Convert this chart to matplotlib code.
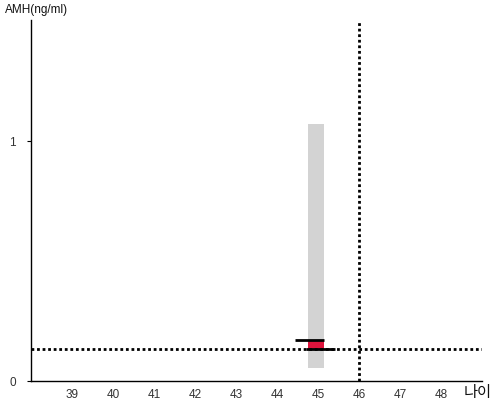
import matplotlib
matplotlib.use("Agg")
import matplotlib.pyplot as plt

plt.rcParams['font.family'] = ['Liberation Sans', 'Noto Sans CJK KR', 'DejaVu Sans']

# 나이 / AMH 값
ages = [39, 40, 41, 42, 43, 44, 45, 46, 47, 48]
my_age = 46
my_amh = 0.133
range_age = 44.95
range_low = 0.054
range_high = 1.071
box_low = 0.133
box_high = 0.171
box_top_line = (44.45, 45.14)
box_bottom_line = (44.71, 45.42)

fig = plt.figure(figsize=(5, 4), dpi=100)
ax = fig.add_axes([0.062, 0.0475, 0.902, 0.9025])

# 회색 범위 막대
ax.bar(range_age, range_high - range_low, bottom=range_low, width=0.37,
       color='#d3d3d3', zorder=1)
# 빨간 상자
ax.bar(range_age, box_high - box_low, bottom=box_low, width=0.37,
       color='#dc143c', zorder=2)
ax.hlines(box_high, box_top_line[0], box_top_line[1], color='black', lw=2, zorder=3)
ax.hlines(box_low, box_bottom_line[0], box_bottom_line[1], color='black', lw=2, zorder=3)

# 기준선
ax.axhline(my_amh, color='black', lw=2, ls=(0, (1, 1)), zorder=4)
ax.axvline(my_age, color='black', lw=2, ls=(0, (1, 1)), zorder=4)

ax.set_xlim(38, 49)
ax.set_ylim(0, 1.505)
ax.set_xticks(ages)
ax.set_yticks([0, 1])
ax.tick_params(axis='x', length=0, labelsize=8.5, colors='#333333', pad=6)
ax.tick_params(axis='y', length=3, labelsize=8.5, colors='#333333', pad=8)
ax.tick_params(axis='both', color='black')
for s in ['top', 'right']:
    ax.spines[s].set_visible(False)
for s in ['left', 'bottom']:
    ax.spines[s].set_linewidth(1)

fig.text(0.01, 0.975, 'AMH(ng/ml)', fontsize=8.5, va='center', ha='left', color='#111111')
fig.text(0.984, 0.018, '나이', fontsize=11, va='center', ha='right', color='#111111',
         family=['Noto Sans CJK KR', 'DejaVu Sans'])

fig.savefig('out.png', dpi=100)
